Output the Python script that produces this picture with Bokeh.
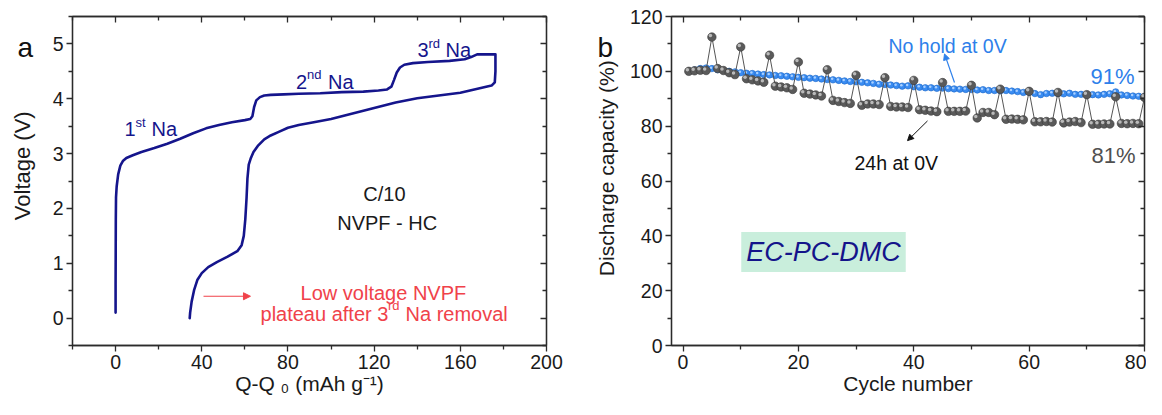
from bokeh.plotting import figure
from bokeh.models import (Range1d, LinearAxis, FixedTicker, Label, Arrow,
                          NormalHead, ColumnDataSource)
from bokeh.layouts import row
from bokeh.transform import dodge
from bokeh.embed import file_html
from bokeh.resources import INLINE

FONT = "Liberation Sans"
AXC = "#2b2b2b"
H = 399

# ---------------- panel a: voltage profile ----------------
q_charge = [0.0, 0.0, 0.05, 0.1, 0.2, 0.5, 1.2, 2.2, 3.5, 5.0, 8.0, 12.0, 18.0,
            24.0, 30.0, 36.0, 42.0, 48.0, 54.0, 60.0, 62.5, 63.5, 64.3, 65.3,
            67.0, 69.0, 72.0, 78.0, 85.0, 95.0, 105.0, 115.0, 122.0, 126.0,
            128.0, 129.2, 130.5, 132.0, 134.0, 138.0, 145.0, 155.0, 162.0,
            165.0, 167.8, 172.0, 176.3]
v_charge = [0.10, 0.60, 1.20, 1.80, 2.20, 2.40, 2.62, 2.78, 2.87, 2.92, 2.97,
            3.03, 3.10, 3.18, 3.27, 3.37, 3.46, 3.52, 3.57, 3.61, 3.63, 3.68,
            3.85, 3.97, 4.03, 4.06, 4.07, 4.08, 4.09, 4.10, 4.12, 4.13, 4.15,
            4.17, 4.22, 4.34, 4.48, 4.57, 4.62, 4.65, 4.67, 4.69, 4.72, 4.76,
            4.81, 4.81, 4.81]
q_discharge = [176.3, 176.3, 176.0, 174.5, 170.0, 160.0, 150.0, 140.0, 130.0,
               120.0, 110.0, 100.0, 92.0, 85.0, 80.0, 76.0, 72.0, 69.0, 66.0,
               64.0, 62.8, 61.8, 61.2, 60.8, 60.2, 59.5, 58.5, 56.5, 52.0,
               47.0, 43.0, 40.0, 38.0, 36.5, 35.3, 34.6, 34.4]
v_discharge = [4.81, 4.50, 4.30, 4.24, 4.20, 4.11, 4.06, 4.01, 3.93, 3.83,
               3.73, 3.63, 3.57, 3.52, 3.47, 3.40, 3.33, 3.26, 3.14, 3.03,
               2.92, 2.80, 2.55, 2.20, 1.80, 1.50, 1.33, 1.22, 1.12, 1.02,
               0.93, 0.82, 0.70, 0.52, 0.30, 0.10, 0.00]
a_xticks = [0, 40, 80, 120, 160, 200]
a_xminor = [-20, 20, 60, 100, 140, 180]
a_yticks = [0, 1, 2, 3, 4, 5]
a_yminor = [-0.5, 0.5, 1.5, 2.5, 3.5, 4.5, 5.5]

# ---------------- panel b: capacity retention ----------------
cycles = list(range(1, 81))
cap_no_hold = [100.0, 100.5, 101.0, 101.2, 101.0, 100.6, 100.3, 100.0, 99.8, 99.5,
               99.3, 99.2, 99.0, 98.8, 98.7, 98.5, 98.4, 98.2, 98.0, 97.8,
               97.7, 97.5, 97.4, 97.2, 97.0, 96.9, 96.7, 96.5, 96.3, 96.2,
               96.0, 95.8, 95.6, 95.3, 95.2, 95.0, 94.8, 94.6, 94.7, 94.4,
               94.2, 94.0, 94.0, 93.8, 93.9, 93.7, 93.6, 93.5, 93.4, 93.4,
               93.2, 93.3, 93.0, 93.0, 92.9, 93.0, 92.8, 92.6, 92.3, 92.4,
               91.9, 91.5, 91.9, 92.0, 91.9, 91.8, 92.0, 91.6, 91.6, 91.5,
               91.5, 91.4, 91.6, 91.8, 92.5, 91.4, 91.2, 91.0, 90.9, 90.7]
cap_hold_24h = [100.0, 100.2, 100.4, 100.3, 112.5, 101.0, 100.3, 99.5, 98.8, 108.9,
                97.3, 96.9, 96.5, 96.0, 105.9, 94.6, 94.3, 94.0, 93.4, 103.4,
                92.0, 91.7, 91.4, 91.0, 100.6, 89.4, 89.0, 88.6, 88.3, 98.6,
                87.6, 88.1, 88.1, 87.9, 97.7, 87.2, 87.0, 87.0, 86.8, 96.7,
                86.0, 85.8, 85.5, 85.3, 95.9, 85.4, 85.4, 85.4, 85.5, 94.9,
                83.0, 85.0, 85.0, 84.2, 93.5, 82.5, 82.6, 82.5, 82.3, 92.7,
                81.6, 81.6, 81.7, 81.5, 92.3, 81.2, 81.5, 81.7, 81.3, 91.5,
                80.7, 80.7, 80.8, 80.8, 90.7, 81.0, 80.9, 81.0, 80.9, 90.5]
b_xticks = [0, 20, 40, 60, 80]
b_xminor = [10, 30, 50, 70]
b_yticks = [0, 20, 40, 60, 80, 100, 120]
b_yminor = [10, 30, 50, 70, 90, 110]


def style_axis(ax, ticks, minor, inward, labels):
    ax.ticker = FixedTicker(ticks=ticks, minor_ticks=minor)
    ax.axis_line_color = AXC
    ax.axis_line_width = 1.3
    ax.major_tick_line_color = AXC
    ax.major_tick_line_width = 1.3
    ax.minor_tick_line_color = AXC
    ax.minor_tick_line_width = 1.3
    if inward:
        ax.major_tick_in, ax.major_tick_out = 6, 0
        ax.minor_tick_in, ax.minor_tick_out = 4, 0
    else:
        ax.major_tick_in, ax.major_tick_out = 0, 6
        ax.minor_tick_in, ax.minor_tick_out = 0, 4
    if labels:
        ax.major_label_text_font = FONT
        ax.major_label_text_font_size = "19.5px"
        ax.major_label_text_color = "#1a1a1a"
        ax.major_label_standoff = 3
    else:
        ax.major_label_text_font_size = "0px"
        ax.major_label_text_color = None
        ax.major_label_standoff = 0


def make_fig(width, xr, yr, bl, br, xt, xm, yt, ym, xlabel):
    p = figure(width=width, height=H, x_range=Range1d(*xr), y_range=Range1d(*yr),
               output_backend="svg", toolbar_location=None,
               min_border_left=bl, min_border_right=br,
               min_border_top=16, min_border_bottom=54)
    p.xgrid.visible = False
    p.ygrid.visible = False
    p.outline_line_color = AXC
    p.outline_line_width = 1.3
    style_axis(p.xaxis[0], xt, xm, False, True)
    style_axis(p.yaxis[0], yt, ym, False, True)
    p.xaxis[0].axis_label = xlabel
    p.xaxis[0].axis_label_text_font = FONT
    p.xaxis[0].axis_label_text_font_size = "21px"
    p.xaxis[0].axis_label_text_font_style = "normal"
    p.xaxis[0].axis_label_text_color = "#1a1a1a"
    p.xaxis[0].axis_label_standoff = 0
    top = LinearAxis()
    style_axis(top, xt, xm, True, False)
    p.add_layout(top, "above")
    right = LinearAxis()
    style_axis(right, yt, ym, True, False)
    p.add_layout(right, "right")
    return p


def make_strip(width):
    s = figure(width=width, height=H, x_range=Range1d(0, width), y_range=Range1d(H, 0),
               output_backend="svg", toolbar_location=None,
               x_axis_location=None, y_axis_location=None,
               min_border_left=0, min_border_right=0, min_border_top=0, min_border_bottom=0)
    s.xgrid.visible = False
    s.ygrid.visible = False
    s.outline_line_color = None
    return s


def txt(p, x, y, text, size="20px", color="#1a1a1a", dx=0, dy=0, align="left",
        baseline="alphabetic", style="normal", angle=0, **kw):
    lab = Label(x=x, y=y, text=text, x_offset=dx, y_offset=dy, text_font=FONT,
                text_font_size=size, text_color=color, text_align=align,
                text_baseline=baseline, text_font_style=style, angle=angle,
                angle_units="deg", **kw)
    p.add_layout(lab)
    return lab


# ======================= strip a (panel letter + y title) =======================
sa = make_strip(40)
txt(sa, 17, 37, "a", size="28px", color="#111111")
txt(sa, 22, 181, "Voltage (V)", size="22px", align="center", baseline="middle", angle=90)

# ======================= panel a =======================
pa = make_fig(542, (-20, 200), (-0.5, 5.5), 32, 36, a_xticks, a_xminor, a_yticks, a_yminor,
              "Q-Q \u2080 (mAh g\u207b\u00b9)")
NAVY = "#15158c"
pa.line(q_charge + q_discharge, v_charge + v_discharge, line_color=NAVY,
        line_width=2.6, line_join="round", line_cap="round")

txt(pa, 4.14, 3.447, "1", color=NAVY)
txt(pa, 4.14, 3.447, "st", size="13px", color=NAVY, dx=11, dy=7)
txt(pa, 4.14, 3.447, "Na", color=NAVY, dx=27)
txt(pa, 83.74, 4.314, "2", color=NAVY)
txt(pa, 83.74, 4.314, "nd", size="13px", color=NAVY, dx=11, dy=7)
txt(pa, 83.74, 4.314, "Na", color=NAVY, dx=32)
txt(pa, 140.1, 4.884, "3", color=NAVY)
txt(pa, 140.1, 4.884, "rd", size="13px", color=NAVY, dx=11, dy=7)
txt(pa, 140.1, 4.884, "Na", color=NAVY, dx=28)

txt(pa, 124.8, 2.258, "C/10", align="center")
txt(pa, 126.06, 1.74, "NVPF - HC", align="center")

RED = "#f0424a"
txt(pa, 124.3, 0.452, "Low voltage NVPF", color=RED, align="center")
txt(pa, 67.26, 0.075, "plateau after 3", color=RED)
txt(pa, 67.26, 0.075, "rd", size="13px", color=RED, dx=127.5, dy=8)
txt(pa, 67.26, 0.075, "Na removal", color=RED, dx=145)
pa.add_layout(Arrow(end=NormalHead(size=7, fill_color=RED, line_color=RED),
                    x_start=40.8, y_start=0.398, x_end=62.6, y_end=0.398,
                    line_color=RED, line_width=1.2))

# ======================= strip b =======================
sb = make_strip(42)
txt(sb, 15, 37, "b", size="28px", color="#111111")
txt(sb, 23.5, 184, "Discharge capacity (%)", size="21px", align="center",
    baseline="middle", angle=90)

# ======================= panel b =======================
pb = make_fig(522, (-2, 80), (0, 120), 47, 2, b_xticks, b_xminor, b_yticks, b_yminor,
              "Cycle number")
BLUE = "#2e80ea"
GRAY = "#555555"
src = ColumnDataSource(dict(x=cycles, nohold=cap_no_hold, hold=cap_hold_24h))

pb.line("x", "nohold", source=src, line_color=BLUE, line_width=1.8)
pb.scatter("x", "nohold", source=src, size=6.5, fill_color="#3a8cf2", line_color="#1d68c8",
           line_width=0.6)
pb.scatter(dodge("x", -0.15, range=pb.x_range), dodge("nohold", 0.35, range=pb.y_range),
           source=src, size=2.5, fill_color="#a9d0ff", line_color=None)

pb.line("x", "hold", source=src, line_color=GRAY, line_width=1.0)
pb.scatter("x", "hold", source=src, size=8.5, fill_color="#5a5a5a", line_color="#3a3a3a",
           line_width=0.6)
pb.scatter(dodge("x", -0.25, range=pb.x_range), dodge("hold", 0.55, range=pb.y_range),
           source=src, size=3.5, fill_color="#c4c4c4", line_color=None, fill_alpha=0.9)

txt(pb, 35.62, 109.1, "No hold at 0V", size="19.5px", color=BLUE)
pb.add_layout(Arrow(end=NormalHead(size=6, fill_color=BLUE, line_color=BLUE),
                    x_start=47.06, y_start=95.93, x_end=45.33, y_end=106.35,
                    line_color=BLUE, line_width=1.2))
txt(pb, 70.64, 98.08, "91%", size="22px", color=BLUE)
txt(pb, 70.8, 69.3, "81%", size="22px", color="#505050")
pb.add_layout(Arrow(end=NormalHead(size=6, fill_color="#111111", line_color="#111111"),
                    x_start=42.38, y_start=81.91, x_end=38.92, y_end=74.73,
                    line_color="#111111", line_width=1.0))
txt(pb, 29.73, 66.46, "24h at 0V", size="19.5px", color="#111111")
txt(pb, 24.35, 34.12, "EC-PC-DMC", size="27px", color="#14148a", align="center",
    baseline="middle", style="italic", background_fill_color="#c9eedc", padding=5)

layout = row(sa, pa, sb, pb)
open("out.html", "w").write(file_html(layout, INLINE))
